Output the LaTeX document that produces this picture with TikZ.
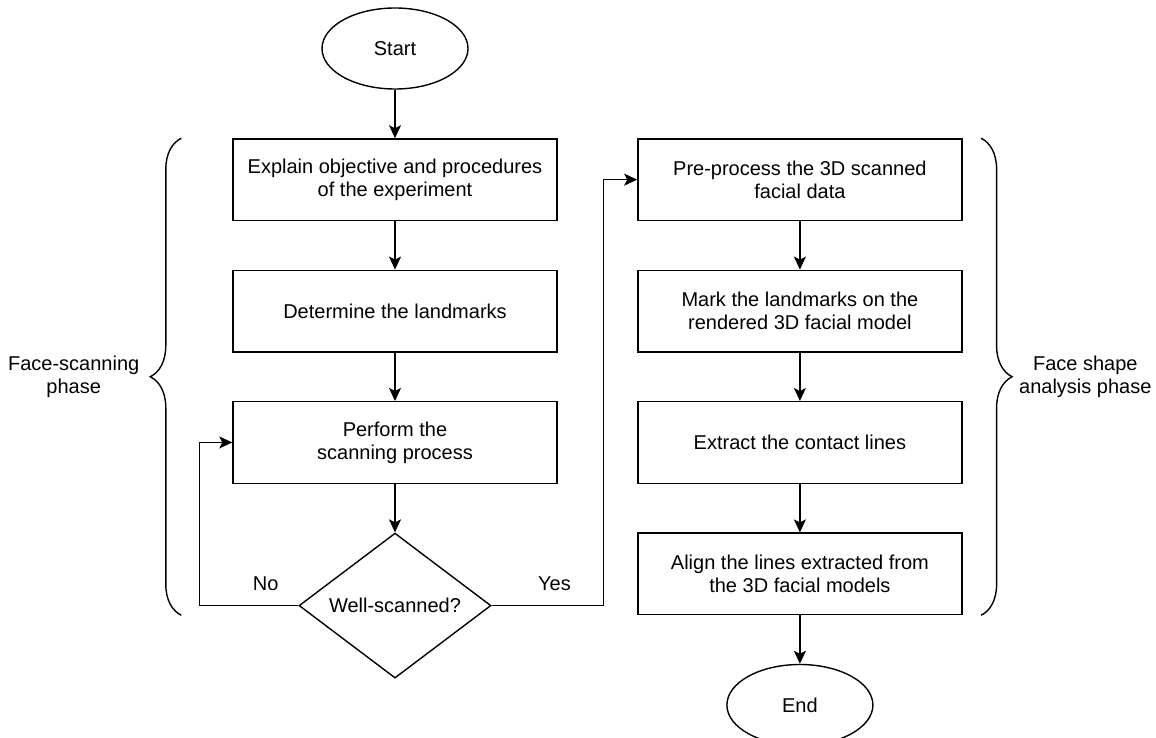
\documentclass[tikz,border=0pt]{standalone}
\usepackage{fontspec}
\setmainfont{Liberation Sans}
\usetikzlibrary{shapes.geometric, arrows.meta, positioning, decorations.pathreplacing}

\begin{document}
\begin{tikzpicture}[
	x=1pt, y=-1pt,
	font=\fontsize{20}{23}\selectfont,
	line width=1.4pt,
	node distance=48.5pt,
	block/.style={rectangle, draw, minimum width=324pt, minimum height=81.5pt, align=center},
	term/.style={ellipse, draw, minimum width=146pt, minimum height=81pt, inner sep=0pt},
	decision/.style={diamond, draw, minimum width=192pt, minimum height=145pt,
		inner sep=0pt, aspect=1.32},
	arr/.style={-{Stealth[length=13pt, width=12pt, inset=3pt]}},
	phase/.style={decorate, decoration={brace, amplitude=31pt}},
	lbl/.style={align=center},
	]
	\useasboundingbox (0,0) rectangle (1156,738);
	
	% Face-scanning column
	\node[term] (start) at (395,48.5) {Start};
	\node[block, below=of start] (explain) {Explain objective and procedures\\of the experiment};
	\node[block, below=of explain] (landmk) {Determine the landmarks};
	\node[block, below=of landmk] (scan) {Perform the\\scanning process};
	\node[decision, below=of scan] (check) {Well-scanned?};
	
	% Analysis column
	\node[block, right=79.5pt of explain] (prep) {Pre-process the 3D scanned\\facial data};
	\node[block, below=of prep] (mark) {Mark the landmarks on the\\rendered 3D facial model};
	\node[block, below=of mark] (extract) {Extract the contact lines};
	\node[block, below=of extract] (align) {Align the lines extracted from\\the 3D facial models};
	\node[term, below=of align] (stop) {End};
	
	% Arrows
	\draw[arr] (start) -- (explain);
	\draw[arr] (explain) -- (landmk);
	\draw[arr] (landmk) -- (scan);
	\draw[arr] (scan) -- (check);
	\draw[arr] (check.west) -- node[above=11pt, pos=0.33] {No} ++(-99,0) |- (scan.west);
	\draw[arr] (check.east) -- node[above=11pt, pos=0.56] {Yes} ++(112,0) |- (prep.west);
	\draw[arr] (prep) -- (mark);
	\draw[arr] (mark) -- (extract);
	\draw[arr] (extract) -- (align);
	\draw[arr] (align) -- (stop);
	
	% Phase braces
	\coordinate (ltop) at ([xshift=-51pt]explain.north west);
	\coordinate (lbot) at (ltop |- align.south);
	\draw[phase] (lbot) -- (ltop);
	\path (lbot) -- node[lbl, left=38pt] (scanphase) {Face-scanning\\phase} (ltop);
	
	\coordinate (rtop) at ([xshift=18.5pt]prep.north east);
	\coordinate (rbot) at (rtop |- align.south);
	\draw[phase] (rtop) -- (rbot);
	\path (rtop) -- node[lbl, right=34pt] (shapephase) {Face shape\\analysis phase} (rbot);
\end{tikzpicture}
\end{document}
